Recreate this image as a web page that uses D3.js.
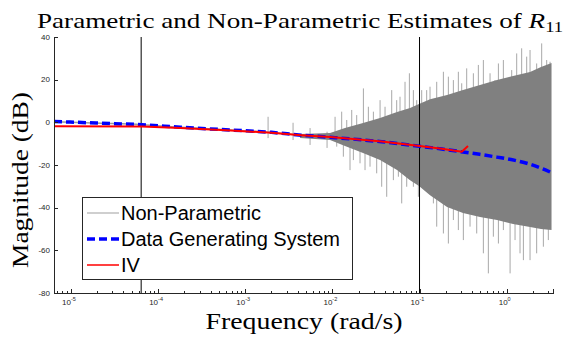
<!DOCTYPE html>
<html>
<head>
<meta charset="utf-8">
<script src="https://cdn.jsdelivr.net/npm/d3@7/dist/d3.min.js"></script>
<style>
  body { margin: 0; background: #fff; }
</style>
</head>
<body>
<div id="chart"></div>
<script>
// Data generating system (blue dashed), rad/s and dB
const dgsFreq = [6.4e-6, 2.2e-5, 6.5e-5, 1.8e-4, 6.8e-4, 2.0e-3, 4.4e-3, 0.0094, 0.037, 0.1, 0.18, 0.316, 0.49, 0.77, 1.3, 1.85, 2.6, 3.27];
const dgsMag = [0.4, -0.4, -1.1, -2.3, -3.6, -4.7, -6.0, -7.0, -9.1, -11.2, -12.5, -13.9, -15.0, -16.3, -18.0, -19.6, -21.8, -23.6];

// IV estimate (red)
const ivFreq = [6.4e-6, 6.5e-5, 1.8e-4, 6.8e-4, 2.0e-3, 4.4e-3, 0.0094, 0.037, 0.1, 0.18, 0.305, 0.36];
const ivMag = [-1.8, -1.9, -2.6, -3.8, -4.9, -6.0, -6.9, -9.0, -11.1, -12.4, -13.8, -11.1];

// Non-parametric estimate: smooth low-frequency part
const npLineFreq = [6.4e-6, 2.2e-5, 6.5e-5, 1.8e-4, 6.8e-4, 1.87e-3, 4.26e-3];
const npLineMag = [0.3, -0.4, -1.1, -2.3, -3.6, -4.6, -6.0];

// Non-parametric estimate: dense noisy core (upper / lower edge)
const bandFreq = [4.26e-3, 9.4e-3, 0.01396, 0.02248, 0.03524, 0.05521, 0.07786, 0.09863,
  0.132, 0.207, 0.3155, 0.4943, 0.7745, 1.183, 1.853, 2.477, 3.27];
const bandHi = [-5.5, -5.0, -2.6, -0.3, 2.0, 4.8, 6.7, 8.6,
  10.8, 12.8, 15.1, 17.5, 19.8, 21.7, 23.6, 25.9, 27.8];
const bandLo = [-7.4, -8.3, -11.1, -14.4, -17.7, -22.4, -27.1, -29.9,
  -34.2, -39.7, -42.5, -44.4, -45.8, -47.7, -49.1, -50.0, -50.5];

// Non-parametric estimate: spike tips reaching outside the core
const tipFreq = [1.83e-3, 1.83e-3, 3.54e-3, 3.54e-3, 5.55e-3, 5.55e-3, 8.69e-3, 8.69e-3,
  0.01074, 0.01279, 0.01462, 0.01668, 0.01902, 0.0227, 0.02589, 0.02955, 0.03527, 0.04022,
  0.04797, 0.05471, 0.05973, 0.06817, 0.0765, 0.085, 0.09285, 0.1059, 0.1208, 0.132,
  0.1575, 0.1878, 0.2143, 0.2445, 0.279, 0.3048, 0.3478, 0.4148, 0.4732, 0.5401,
  0.6442, 0.7349, 0.8035, 0.9164, 1.142, 1.303, 1.486, 1.697, 1.854, 2.208,
  2.521, 2.877, 3.145,
  0.01122, 0.01337, 0.01594, 0.01742, 0.02077, 0.0237, 0.02704, 0.03226, 0.03681, 0.04203,
  0.05012, 0.05718, 0.06246, 0.07129, 0.085, 0.097, 0.1107, 0.1264, 0.1442, 0.1575,
  0.1878, 0.2143, 0.2445, 0.279, 0.3184, 0.3798, 0.4531, 0.5401, 0.6163, 0.7031,
  0.8035, 0.9164, 1.094, 1.247, 1.423, 1.555, 1.854, 2.208, 2.636, 3.006];
const tipMag = [2.6, -7.4, -0.2, -8.3, -2.7, -10.6, -4.4, -12.0,
  2.6, 5.0, 1.1, 5.8, 3.4, 15.9, 7.3, 5.0, 10.4, 7.3,
  15.1, 10.4, 12.0, 19.0, 23.0, 15.1, 10.4, 15.1, 15.1, 16.7,
  19.0, 23.7, 21.4, 19.8, 23.7, 18.3, 25.3, 23.0, 26.9, 29.2,
  23.0, 19.8, 27.6, 29.2, 24.5, 32.3, 34.7, 30.8, 33.9, 27.6,
  37.0, 29.2, 28.4,
  -11.4, -16.1, -22.4, -17.7, -19.2, -22.4, -20.8, -23.9, -30.2, -34.9,
  -27.1, -25.5, -38.0, -30.2, -30.2, -34.9, -30.2, -28.6, -38.0, -48.9,
  -52.1, -56.8, -45.8, -50.5, -55.2, -48.9, -52.1, -61.4, -70.8, -53.6,
  -56.8, -50.5, -70.8, -55.2, -61.4, -64.6, -64.6, -61.4, -58.3, -55.2];

// Vertical marker lines
const boundFreq = [6.4e-5, 0.1];

const yTicks = [40, 20, 0, -20, -40, -60, -80];
const xTickExp = [-5, -4, -3, -2, -1, 0];
const legendLabels = ["Non-Parametric", "Data Generating System", "IV"];

const width = 568, height = 338;
const plot = { left: 54, right: 553, top: 37, bottom: 293 };

const svg = d3.select("#chart").append("svg")
  .attr("width", width)
  .attr("height", height);

const x = d3.scaleLog().domain([6.4e-6, 3.4]).range([plot.left, plot.right]);
const y = d3.scaleLinear().domain([-80, 40]).range([plot.bottom, plot.top]);

// level of the system response at any frequency (base of each spike)
const baseAt = d3.scaleLinear().domain(dgsFreq.map(Math.log10)).range(dgsMag);

// spikes, drawn from the response level out to their tips
svg.append("g").selectAll("line")
  .data(tipFreq)
  .enter().append("line")
  .attr("x1", d => x(d)).attr("x2", d => x(d))
  .attr("y1", d => y(baseAt(Math.log10(d))))
  .attr("y2", (d, i) => y(tipMag[i]))
  .attr("stroke", "#a8a8a8")
  .attr("stroke-width", 1);

// dense core
const band = d3.area()
  .x((d, i) => x(bandFreq[i]))
  .y0((d, i) => y(bandLo[i]))
  .y1((d, i) => y(bandHi[i]));
svg.append("path")
  .attr("d", band(bandFreq))
  .attr("fill", "#808080");

const npLine = d3.line()
  .x((d, i) => x(npLineFreq[i]))
  .y((d, i) => y(npLineMag[i]))
  .curve(d3.curveMonotoneX);
svg.append("path")
  .attr("d", npLine(npLineFreq))
  .attr("fill", "none")
  .attr("stroke", "#9a9a9a")
  .attr("stroke-width", 1.5);

// vertical marker lines
svg.append("g").selectAll("line")
  .data(boundFreq)
  .enter().append("line")
  .attr("x1", d => x(d)).attr("x2", d => x(d))
  .attr("y1", plot.top).attr("y2", plot.bottom)
  .attr("stroke", "#000")
  .attr("stroke-width", 1);

const dgsLine = d3.line()
  .x((d, i) => x(dgsFreq[i]))
  .y((d, i) => y(dgsMag[i]))
  .curve(d3.curveMonotoneX);
svg.append("path")
  .attr("d", dgsLine(dgsFreq))
  .attr("fill", "none")
  .attr("stroke", "#0000ff")
  .attr("stroke-width", 3.5)
  .attr("stroke-dasharray", "8,4");

const ivLine = d3.line()
  .x((d, i) => x(ivFreq[i]))
  .y((d, i) => y(ivMag[i]));
svg.append("path")
  .attr("d", ivLine(ivFreq))
  .attr("fill", "none")
  .attr("stroke", "#ff0000")
  .attr("stroke-width", 2);

// axes
const axisColor = "#262626";
const majors = xTickExp.map(e => Math.pow(10, e));
const minors = [];
for (let e = -6; e <= 0; e++) {
  for (let m = 2; m <= 9; m++) {
    const v = m * Math.pow(10, e);
    if (v >= x.domain()[0] && v <= x.domain()[1]) minors.push(v);
  }
}

svg.append("g")
  .attr("transform", "translate(0," + plot.bottom + ")")
  .call(d3.axisBottom(x).tickValues(majors).tickSize(-4).tickFormat(""));
svg.append("g")
  .attr("transform", "translate(0," + plot.bottom + ")")
  .call(d3.axisBottom(x).tickValues(minors).tickSize(-2).tickFormat(""))
  .call(g => g.select(".domain").remove());

svg.append("g")
  .attr("transform", "translate(" + plot.left + ",0)")
  .call(d3.axisLeft(y).tickValues(yTicks).tickSize(-4).tickFormat(""));

svg.selectAll(".domain, .tick line")
  .attr("stroke", axisColor)
  .attr("shape-rendering", "crispEdges");

// tick labels
svg.append("g").selectAll("text")
  .data(yTicks)
  .enter().append("text")
  .attr("x", plot.left - 4)
  .attr("y", d => y(d))
  .attr("dy", "0.35em")
  .attr("text-anchor", "end")
  .attr("font-family", "Liberation Sans, Arial, sans-serif")
  .attr("font-size", 8)
  .attr("fill", axisColor)
  .text(d => d);

const xl = svg.append("g").selectAll("text")
  .data(xTickExp)
  .enter().append("text")
  .attr("x", d => x(Math.pow(10, d)) - 2)
  .attr("y", plot.bottom + 12)
  .attr("text-anchor", "middle")
  .attr("font-family", "Liberation Sans, Arial, sans-serif")
  .attr("font-size", 8)
  .attr("fill", axisColor);
xl.append("tspan").text("10");
xl.append("tspan").attr("dy", -4).attr("font-size", 5.5).text(d => d === 0 ? "0" : "-" + Math.abs(d));

// title and axis labels
const serif = "Liberation Serif, Times New Roman, serif";
const title = svg.append("text")
  .attr("x", 37).attr("y", 28)
  .attr("font-family", serif)
  .attr("font-size", 22)
  .attr("fill", "#000");
title.append("tspan").text("Parametric and Non-Parametric Estimates of ");
title.append("tspan").attr("font-style", "italic").text("R");
title.append("tspan").attr("font-size", 15).attr("dy", 4).text("11");
title.attr("textLength", 526).attr("lengthAdjust", "spacingAndGlyphs");

svg.append("text")
  .attr("x", 304).attr("y", 329)
  .attr("text-anchor", "middle")
  .attr("font-family", serif)
  .attr("font-size", 23)
  .attr("textLength", 197)
  .attr("lengthAdjust", "spacingAndGlyphs")
  .text("Frequency (rad/s)");

svg.append("text")
  .attr("transform", "translate(28,180) rotate(-90)")
  .attr("text-anchor", "middle")
  .attr("font-family", serif)
  .attr("font-size", 23)
  .attr("textLength", 176)
  .attr("lengthAdjust", "spacingAndGlyphs")
  .text("Magnitude (dB)");

// legend
const legend = svg.append("g");
legend.append("rect")
  .attr("x", 82).attr("y", 197)
  .attr("width", 270).attr("height", 82)
  .attr("fill", "#fff")
  .attr("stroke", axisColor)
  .attr("stroke-width", 1)
  .attr("shape-rendering", "crispEdges");

const legendStyle = [
  { stroke: "#b0b0b0", width: 1.2, dash: null },
  { stroke: "#0000ff", width: 3.5, dash: "8,4" },
  { stroke: "#ff0000", width: 1.5, dash: null }
];
const rows = legend.selectAll(".row")
  .data(legendLabels)
  .enter().append("g")
  .attr("class", "row")
  .attr("transform", (d, i) => "translate(0," + (213 + i * 26) + ")");
rows.append("line")
  .attr("x1", 87).attr("x2", 119)
  .attr("y1", 0).attr("y2", 0)
  .attr("stroke", (d, i) => legendStyle[i].stroke)
  .attr("stroke-width", (d, i) => legendStyle[i].width)
  .attr("stroke-dasharray", (d, i) => legendStyle[i].dash);
rows.append("text")
  .attr("x", 121)
  .attr("dy", "0.36em")
  .attr("font-family", "Liberation Sans, Arial, sans-serif")
  .attr("font-size", 20)
  .attr("fill", "#000")
  .text(d => d);
</script>
</body>
</html>
